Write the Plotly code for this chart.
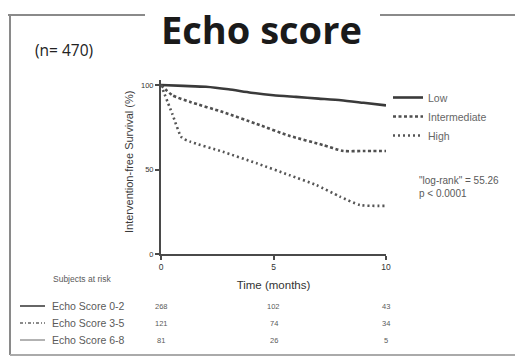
import plotly.graph_objects as go

# ---- data ----
months_low = [0, 1, 2, 3, 4, 5, 6, 7, 8, 9, 10]
surv_low = [100, 99.5, 99, 97.5, 95.5, 94, 93, 92, 91, 89.5, 88]

months_int = [0, 0.5, 1.3, 2.75, 4.25, 5.7, 7.2, 8.1, 9.0, 10]
surv_int = [100, 94, 90, 84, 77, 70, 64.5, 61, 61, 61]

months_high = [0, 0.5, 0.92, 1.3, 2.75, 4.25, 5.7, 6.9, 7.95, 8.85, 10]
surv_high = [100, 83, 69, 66.5, 60.5, 53.7, 46.7, 40.8, 34, 29, 28.5]

series_names = ["Low", "Intermediate", "High"]
risk_times = [0, 5, 10]
risk_labels = ["Echo Score 0-2", "Echo Score 3-5", "Echo Score 6-8"]
risk_counts = [[268, 102, 43], [121, 74, 34], [81, 26, 5]]

x_ticks = [0, 5, 10]
y_ticks = [0, 50, 100]

# ---- layout geometry (pixels) ----
W, H = 515, 357
L, R, T, B = 161, 386, 80, 254
PW, PH = R - L, B - T

def px(x):
    return (x - L) / PW

def py(y):
    return (B - y) / PH

LINE = "#4a4a4a"
TXT = "#5a5a5a"

fig = go.Figure()
fig.add_trace(go.Scatter(x=months_low, y=surv_low, mode="lines", name=series_names[0],
                         line=dict(color="#3a3a3a", width=2.6, shape="spline", smoothing=0.6)))
fig.add_trace(go.Scatter(x=months_int, y=surv_int, mode="lines", name=series_names[1],
                         line=dict(color="#505050", width=2.6, dash="3px,2.5px", shape="spline", smoothing=0.6)))
fig.add_trace(go.Scatter(x=months_high, y=surv_high, mode="lines", name=series_names[2],
                         line=dict(color="#555555", width=2.6, dash="2px,3px", shape="spline", smoothing=0.6)))

ann = []
shapes = []

# title and frame
ann.append(dict(text="<b>Echo score</b>", x=px(261), y=py(29), xref="paper", yref="paper",
                showarrow=False, font=dict(family="Open Sans", size=38, color="#1a1a1a"),
                xanchor="center", yanchor="middle"))
frame_col = "#8a8a8a"
shapes.append(dict(type="line", xref="paper", yref="paper", x0=px(8), x1=px(145), y0=py(15), y1=py(15),
                   line=dict(color=frame_col, width=2)))
shapes.append(dict(type="line", xref="paper", yref="paper", x0=px(380), x1=px(515), y0=py(15), y1=py(15),
                   line=dict(color=frame_col, width=2)))
shapes.append(dict(type="line", xref="paper", yref="paper", x0=px(10), x1=px(10), y0=py(15), y1=py(355),
                   line=dict(color=frame_col, width=2)))
shapes.append(dict(type="line", xref="paper", yref="paper", x0=px(10), x1=px(515), y0=py(355), y1=py(355),
                   line=dict(color="#aaaaaa", width=2)))

ann.append(dict(text="(n= 470)", x=px(33), y=py(50), xref="paper", yref="paper", showarrow=False,
                font=dict(family="Open Sans", size=15.5, color="#222222"), xanchor="left", yanchor="middle"))

# y title
ann.append(dict(text="Intervention-free Survival (%)", x=px(129), y=py(162), xref="paper", yref="paper",
                showarrow=False, textangle=-90, font=dict(family="Liberation Sans", size=11, color="#3a3a3a"),
                xanchor="center", yanchor="middle"))

# log-rank
ann.append(dict(text='"log-rank" = 55.26<br>p < 0.0001', x=px(417), y=py(187), xref="paper", yref="paper",
                showarrow=False, align="left", font=dict(family="Liberation Sans", size=10, color=TXT),
                xanchor="left", yanchor="middle"))

# risk table
ann.append(dict(text="Subjects at risk", x=px(82), y=py(279), xref="paper", yref="paper", showarrow=False,
                font=dict(family="Liberation Sans", size=8.5, color=TXT), xanchor="center", yanchor="middle"))
row_y = [306, 323, 340]
row_dash = ["solid", "3px,2px,1px,2px", "solid"]
row_w = [2, 1.5, 1]
for i, lab in enumerate(risk_labels):
    ann.append(dict(text=lab, x=px(50), y=py(row_y[i]), xref="paper", yref="paper", showarrow=False,
                    font=dict(family="Liberation Sans", size=10.5, color=TXT), xanchor="left", yanchor="middle"))
    shapes.append(dict(type="line", xref="paper", yref="paper", x0=px(20), x1=px(45),
                       y0=py(row_y[i]), y1=py(row_y[i]),
                       line=dict(color="#666666", width=row_w[i], dash=row_dash[i])))
    for t, c in zip(risk_times, risk_counts[i]):
        ann.append(dict(text=str(c), x=t, y=py(row_y[i]), xref="x", yref="paper", showarrow=False,
                        font=dict(family="Liberation Sans", size=7.5, color=TXT), xanchor="center", yanchor="middle"))

fig.update_layout(
    width=W, height=H, margin=dict(l=L, r=W - R, t=T, b=H - B, pad=0),
    paper_bgcolor="white", plot_bgcolor="white",
    annotations=ann, shapes=shapes,
    legend=dict(x=px(388), y=py(83), xanchor="left", yanchor="top", xref="paper", yref="paper",
                font=dict(family="Liberation Sans", size=10.5, color="#666666"), itemwidth=30,
                bgcolor="rgba(0,0,0,0)", tracegroupgap=0),
    xaxis=dict(range=[0, 10], tickvals=x_ticks, showline=True, linecolor=LINE, linewidth=2,
               ticks="outside", ticklen=4, tickcolor=LINE, tickwidth=1.5, showgrid=False, zeroline=False,
               tickfont=dict(family="Liberation Sans", size=8.5, color="#333333"),
               title=dict(text="Time (months)", font=dict(family="Liberation Sans", size=11.5, color="#333333"),
                          standoff=10)),
    yaxis=dict(range=[0, 103], tickvals=y_ticks, showline=True, linecolor=LINE, linewidth=2,
               ticks="outside", ticklen=4, tickcolor=LINE, tickwidth=1.5, showgrid=False, zeroline=False,
               tickfont=dict(family="Liberation Sans", size=7.5, color="#333333")),
)

fig.write_html("out.html")
